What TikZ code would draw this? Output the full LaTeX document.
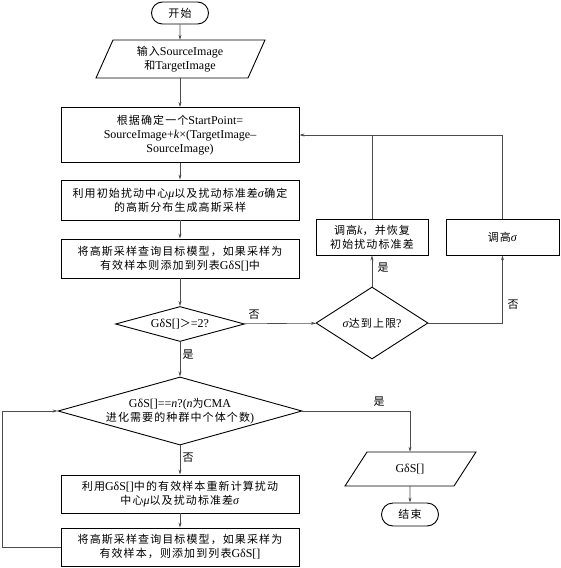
\documentclass[tikz,border=0pt]{standalone}
\usepackage{fontspec}
\setmainfont{Liberation Serif}[Scale=1.09]
\newfontfamily\cjk{Noto Sans CJK SC}[LetterSpace=10]
\newcommand\zh[1]{{\cjk #1}}
\usetikzlibrary{shapes.geometric,shapes.misc,arrows.meta}
\begin{document}
\begin{tikzpicture}[x=1pt,y=-1pt,
  every node/.style={font=\fontsize{11}{14}\selectfont, inner sep=0pt},
  box/.style={draw=black, line width=0.9pt, rectangle, minimum width=238pt, align=center},
  term/.style={draw=black, line width=0.9pt, rounded rectangle, minimum width=57pt, minimum height=22pt},
  dia/.style={draw=black, line width=0.9pt, diamond, align=center},
  txt/.style={align=center},
  lab/.style={font=\fontsize{11}{14}\selectfont},
  con/.style={draw=black!70, line width=0.6pt},
  arr/.style={con, -{Stealth[length=5pt,width=3pt]}},
  para/.style={draw=black, line width=0.9pt}
]
\useasboundingbox (0,0) rectangle (560,568);

% nodes
\node[term] (start) at (180,13) {\zh{开始}};
\node[txt, minimum width=150pt, minimum height=38pt] (in) at (180,59) {\zh{输入}SourceImage\\\zh{和}TargetImage};
\draw[para] (96,78) -- (113,40) -- (265,40) -- (248,78) -- cycle;

\node[box, minimum height=55pt] (b1) at (180,135) {\zh{根据确定一个}StartPoint=\\SourceImage+\textit{k}×(TargetImage–\\SourceImage)};
\node[box, minimum height=40pt] (b2) at (180,200) {\zh{利用初始扰动中心}\textit{μ}\zh{以及扰动标准差}\textit{σ}\zh{确定}\\\zh{的高斯分布生成高斯采样}};
\node[box, minimum height=39pt] (b3) at (180,258.5) {\zh{将高斯采样查询目标模型，如果采样为}\\\zh{有效样本则添加到列表}GδS[]\zh{中}};

\node[dia, minimum width=129pt, minimum height=35pt, aspect=3.7] (d1) at (180,324) {GδS[]\zh{＞}=2?};
\node[dia, minimum width=112pt, minimum height=72pt, aspect=1.55] (d2) at (372,323) {\textit{σ}\zh{达到上限}?};

\node[draw=black, line width=0.9pt, minimum width=112pt, minimum height=36pt, align=center] (bk) at (372,237) {\zh{调高}\textit{k}\zh{，并恢复}\\\zh{初始扰动标准差}};
\node[draw=black, line width=0.9pt, minimum width=113pt, minimum height=36pt] (bs) at (502.5,237) {\zh{调高}\textit{σ}};

\node[dia, minimum width=244pt, minimum height=68pt, aspect=3.5] (d3) at (180,411) {GδS[]==\textit{n}?(\textit{n}\zh{为}CMA\\\zh{进化需要的种群中个体个数})};

\node[box, minimum height=38pt] (b4) at (180,494) {\zh{利用}GδS[]\zh{中的有效样本重新计算扰动}\\\zh{中心}\textit{μ}\zh{以及扰动标准差}\textit{σ}};
\node[box, minimum height=38pt] (b5) at (180,547) {\zh{将高斯采样查询目标模型，如果采样为}\\\zh{有效样本，则添加到列表}GδS[]};

\node[txt, minimum width=110pt, minimum height=34pt] (go) at (410,469) {GδS[]};
\draw[para] (345,486) -- (367,452) -- (476,452) -- (454,486) -- cycle;
\node[term, minimum height=23pt] (end) at (410,514.5) {\zh{结束}};

% labels
\node[lab] (l1) at (254,315) {\zh{否}};
\node[lab] (l2) at (188,355) {\zh{是}};
\node[lab] (l3) at (383,268) {\zh{是}};
\node[lab] (l4) at (513,305) {\zh{否}};
\node[lab] (l5) at (379,402) {\zh{是}};
\node[lab] (l6) at (188,458) {\zh{否}};

% connectors
\draw[arr] (start) -- (in);
\draw[arr] (in) -- (b1);
\draw[arr] (b1) -- (b2);
\draw[arr] (b2) -- (b3);
\draw[arr] (b3) -- (d1);
\draw[arr] (d1) -- (d2);
\draw[arr] (d1) -- (d3);
\draw[arr] (d2) -- (bk);
\draw[arr] (d2.east) -| (bs.south);
\draw[arr] (bk.north) |- (b1.east);
\draw[con] (bs.north) |- (bk.north |- b1.east);
\draw[arr] (d3) -- (b4);
\draw[arr] (b4) -- (b5);
\draw[arr] (b5.west) -- ++(-58,0) |- (d3.west);
\draw[arr] (d3.east) -| (go.north);
\draw[arr] (go) -- (end);
\end{tikzpicture}
\end{document}
